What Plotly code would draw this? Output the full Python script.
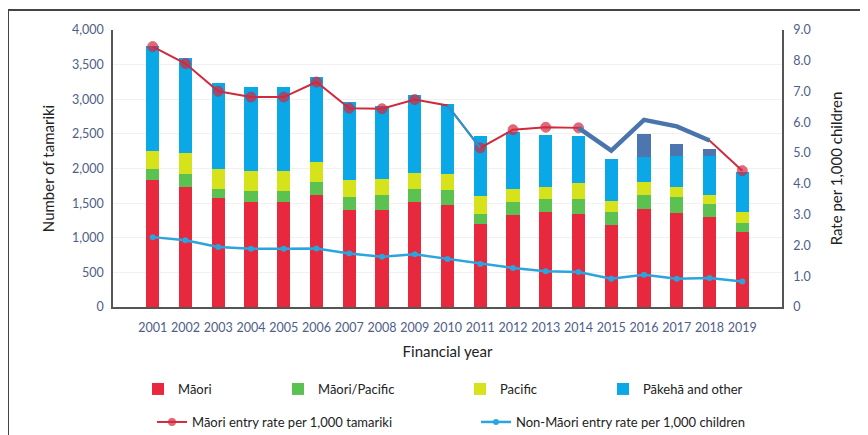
import plotly.graph_objects as go

# 财年
years = [str(y) for y in range(2001, 2020)]

# 各族群人数 (左轴)
maori = [1830, 1730, 1570, 1510, 1510, 1620, 1400, 1400, 1510, 1470,
         1195, 1330, 1375, 1340, 1185, 1415, 1355, 1305, 1090]
maori_pacific = [170, 190, 130, 165, 165, 190, 190, 215, 190, 220,
                 145, 185, 180, 215, 180, 200, 230, 185, 120]
pacific = [250, 300, 290, 290, 290, 280, 240, 240, 240, 230,
           270, 185, 180, 230, 160, 185, 155, 130, 165]
pakeha = [1520, 1370, 1250, 1215, 1215, 1235, 1130, 1045, 1115, 1010,
          865, 830, 745, 690, 610, 370, 435, 555, 580]
extra = [0, 0, 0, 0, 0, 0, 0, 0, 0, 0,
         0, 0, 0, 0, 0, 323, 185, 110, 0]

# 每千人比率 (右轴)
maori_rate = [8.46, 7.91, 7.01, 6.82, 6.82, 7.31, 6.46, 6.44, 6.74, 6.55,
              5.17, 5.76, 5.84, 5.82, 5.08, 6.08, 5.87, 5.41, 4.43]
non_maori_rate = [2.27, 2.17, 1.95, 1.89, 1.89, 1.90, 1.74, 1.63, 1.71, 1.56,
                  1.40, 1.27, 1.16, 1.14, 0.92, 1.05, 0.92, 0.94, 0.83]

yticks_right = [0, 1, 2, 3, 4, 5, 6, 7, 8, 9]
yticks_right_text = ['0'] + [f'{v:.1f}' for v in yticks_right[1:]]

TICK_FONT = dict(family='Lato', size=12.5, color='#4f5d88')
LEG_FONT = dict(family='Lato', size=13, color='#222')

# 页面 body 有 8px 默认边距，这里整体向左上平移
OFF = 8
L, T, PW, PH = 113 - OFF, 30 - OFF, 669, 277

fig = go.Figure()

# 堆叠柱状图
bar_specs = [
    ('Māori', maori, '#e8283c', 'legend'),
    ('Māori/Pacific', maori_pacific, '#5bc150', 'legend2'),
    ('Pacific', pacific, '#d6e31a', 'legend3'),
    ('Pākehā and other', pakeha, '#0aa8e6', 'legend4'),
]
for name, vals, color, leg in bar_specs:
    fig.add_trace(go.Bar(x=years, y=vals, name=name, marker_color=color,
                         marker_line_width=0, legend=leg))
fig.add_trace(go.Bar(x=years, y=extra, name='', marker_color='#4d76b0',
                     marker_line_width=0, showlegend=False))

# 比率折线
msize = [10] * len(years)
for i in (9, 14, 15, 16, 17):
    msize[i] = 0
fig.add_trace(go.Scatter(x=years, y=maori_rate, yaxis='y2', mode='lines+markers',
                         name='Māori entry rate per 1,000 tamariki', legend='legend5',
                         line=dict(color='#d02a3e', width=2),
                         marker=dict(color='#d62840', size=msize)))
fig.add_trace(go.Scatter(x=years[9:11], y=maori_rate[9:11], yaxis='y2', mode='lines',
                         line=dict(color='#1f9ad8', width=2), showlegend=False))
fig.add_trace(go.Scatter(x=years[13:18], y=maori_rate[13:18], yaxis='y2', mode='lines',
                         line=dict(color='#4a74ae', width=4.5), showlegend=False))
fig.add_trace(go.Scatter(x=years, y=non_maori_rate, yaxis='y2', mode='lines+markers',
                         name='Non-Māori entry rate per 1,000 children', legend='legend6',
                         line=dict(color='#2aa5dd', width=2.5),
                         marker=dict(color='#2aa5dd', size=6)))


def px_x(xpx):
    return (xpx - OFF - L) / PW


def px_y(ypx):
    return 1 - (ypx - OFF - T) / PH


# 外框
fig.add_shape(type='line', xref='paper', yref='paper', x0=px_x(8), x1=px_x(870),
              y0=px_y(10), y1=px_y(10), line=dict(color='#444', width=2))
fig.add_shape(type='line', xref='paper', yref='paper', x0=px_x(8), x1=px_x(8),
              y0=px_y(10), y1=px_y(440), line=dict(color='#444', width=2))


def leg(xpx, ypx):
    return dict(x=px_x(xpx), y=px_y(ypx), xanchor='left',
                yanchor='middle', orientation='h', font=LEG_FONT,
                bgcolor='rgba(0,0,0,0)')


fig.update_layout(
    width=868 - OFF, height=435 - OFF,
    margin=dict(l=L, r=868 - OFF - L - PW, t=T, b=435 - OFF - T - PH, autoexpand=False),
    paper_bgcolor='white', plot_bgcolor='white',
    barmode='stack', bargap=0.6,
    xaxis=dict(type='category', showline=True, linecolor='#555', linewidth=1.5,
               tickfont=TICK_FONT, ticks='', ticklabelstandoff=8,
               title=dict(text='Financial year', font=dict(family='Lato', size=15, color='#222'),
                          standoff=13)),
    yaxis=dict(range=[0, 4000], tickvals=list(range(0, 4001, 500)), tickformat=',',
               showline=True, linecolor='#555', linewidth=1.5, gridcolor='#f1f1f1',
               zeroline=False, tickfont=TICK_FONT, ticks='', ticklabelstandoff=5,
               title=dict(text='Number of tamariki', font=dict(family='Lato', size=15, color='#222'),
                          standoff=14)),
    yaxis2=dict(range=[0, 9], overlaying='y', side='right', tickvals=yticks_right,
                ticktext=yticks_right_text, showline=True, linecolor='#555', linewidth=1.5,
                showgrid=False, zeroline=False, tickfont=TICK_FONT, ticks='',
                ticklabelstandoff=7,
                title=dict(text='Rate per 1,000 children', font=dict(family='Lato', size=15, color='#222'),
                           standoff=22)),
    legend=leg(138, 389),
    legend2=leg(278, 389),
    legend3=leg(460, 389),
    legend4=leg(603, 389),
    legend5=leg(152, 422),
    legend6=leg(476, 422),
)

fig.write_html('out.html')
